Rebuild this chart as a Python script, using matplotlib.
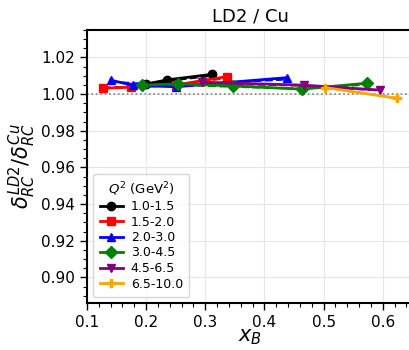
import numpy as np
from matplotlib import pyplot as plt
from matplotlib.ticker import MultipleLocator

# Q^2 bins (GeV^2)
labels = ['1.0-1.5', '1.5-2.0', '2.0-3.0', '3.0-4.5', '4.5-6.5', '6.5-10.0']
colors = ['black', 'red', 'blue', 'green', 'purple', 'orange']
markers = ['o', 's', '^', 'D', 'v', 'P']

# solid curves (with markers)
x_black = [0.200, 0.236, 0.311]
y_black = [1.0055, 1.0078, 1.0108]
x_red = [0.127, 0.175, 0.250, 0.336]
y_red = [1.0032, 1.0038, 1.0050, 1.0095]
x_blue = [0.140, 0.177, 0.250, 0.438]
y_blue = [1.0076, 1.0049, 1.0040, 1.0090]
x_green = [0.193, 0.253, 0.347, 0.463, 0.574]
y_green = [1.0049, 1.0056, 1.0045, 1.0027, 1.0060]
x_purple = [0.295, 0.466, 0.595]
y_purple = [1.0065, 1.0049, 1.0022]
x_orange = [0.503, 0.624]
y_orange = [1.0036, 0.9977]

# dashed curves (no markers)
yd_black = [1.0050, 1.0072, 1.0100]
yd_red = [1.0036, 1.0040, 1.0048, 1.0088]
yd_blue = [1.0068, 1.0060, 1.0050, 1.0080]
yd_green = [1.0042, 1.0050, 1.0040, 1.0030, 1.0052]
yd_purple = [1.0060, 1.0046, 1.0020]
yd_orange = [1.0034, 0.9980]

xs = [x_black, x_red, x_blue, x_green, x_purple, x_orange]
ys = [y_black, y_red, y_blue, y_green, y_purple, y_orange]
yds = [yd_black, yd_red, yd_blue, yd_green, yd_purple, yd_orange]

fig = plt.figure(figsize=(4.09, 3.5), dpi=100)
ax = fig.add_axes([87/409, 47/350, 326/409, 273/350])

ax.axhline(1.0, color='gray', ls=':', lw=1.2, zorder=1)
for x, y, yd, c, m, lab in zip(xs, ys, yds, colors, markers, labels):
    ax.plot(np.array(x), np.array(yd), color=c, ls='--', lw=1.5, zorder=2)
    ax.plot(np.array(x), np.array(y), color=c, marker=m, ms=6, lw=2,
            label=lab, zorder=3)

ax.set_xlim(0.1, 0.651)
ax.set_ylim(0.886, 1.035)
ax.xaxis.set_major_locator(MultipleLocator(0.1))
ax.xaxis.set_minor_locator(MultipleLocator(0.02))
ax.yaxis.set_major_locator(MultipleLocator(0.02))
ax.yaxis.set_minor_locator(MultipleLocator(0.005))
ax.tick_params(which='major', labelsize=11, length=5, width=1)
ax.tick_params(which='minor', length=3, width=0.8)
ax.grid(True, which='major', color='#e6e6e6', lw=0.8)
ax.set_axisbelow(True)
for s in ax.spines.values():
    s.set_linewidth(1.5)

ax.set_title('LD2 / Cu', fontsize=13)
ax.set_xlabel('$x_B$', fontsize=15, labelpad=-2)
ax.set_ylabel(r'$\delta_{RC}^{LD2}/\delta_{RC}^{Cu}$', fontsize=15, labelpad=2)

leg = ax.legend(loc='lower left', title='$Q^2$ (GeV$^2$)', fontsize=9,
                title_fontsize=9.5, handlelength=1.9, borderpad=0.5,
                labelspacing=0.2, handletextpad=0.6)

fig.savefig('out.png', dpi=100)
